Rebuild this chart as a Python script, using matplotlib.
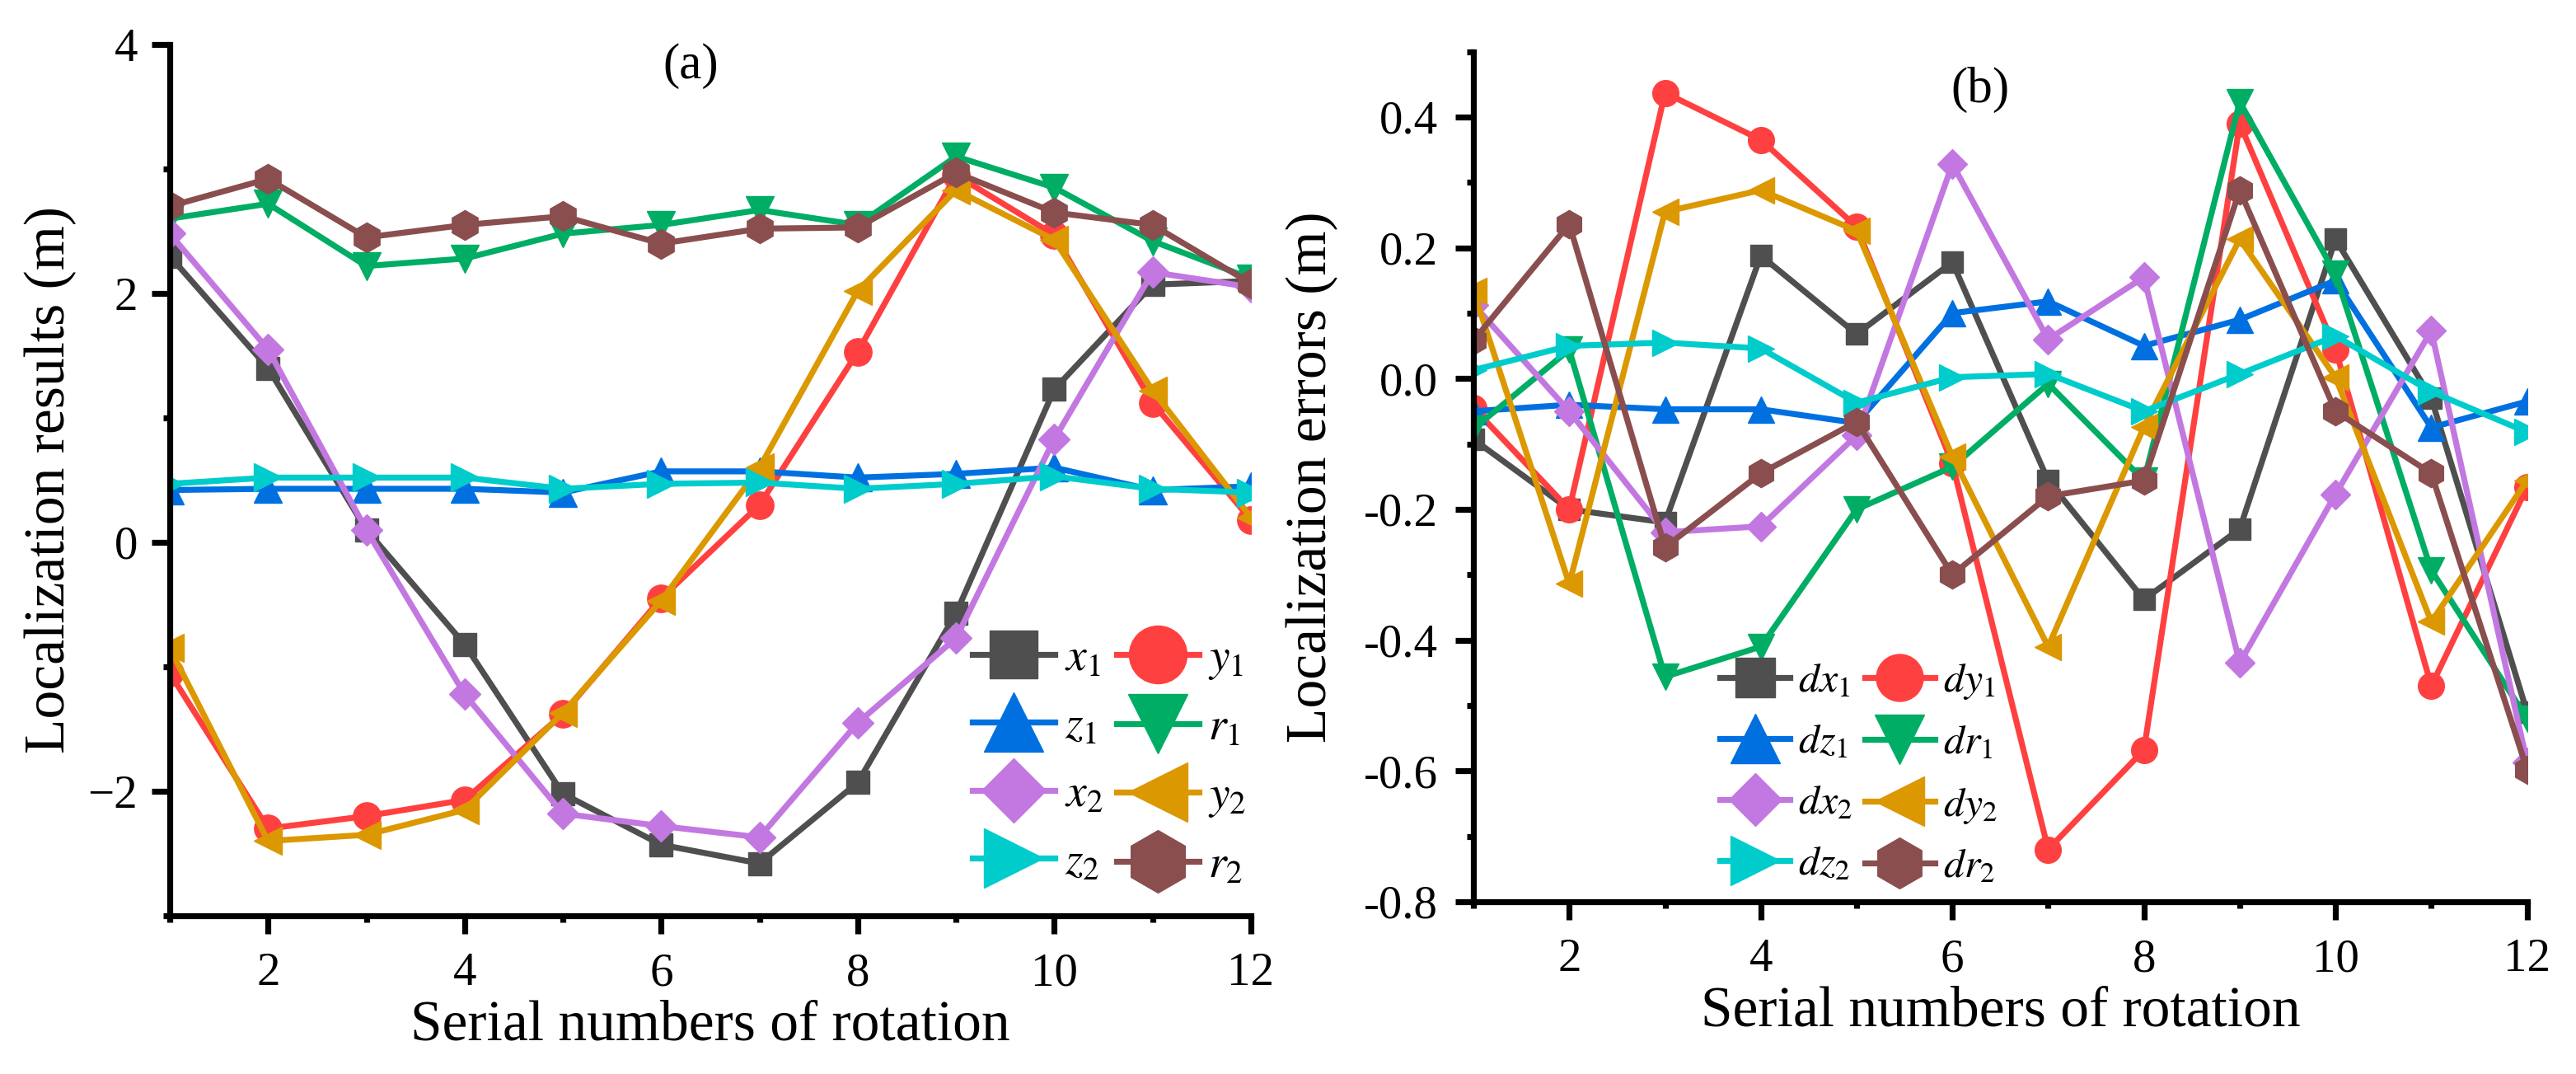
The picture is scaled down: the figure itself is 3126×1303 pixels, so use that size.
import numpy as np
import matplotlib
matplotlib.use('Agg')
import matplotlib.pyplot as plt
from matplotlib.ticker import MultipleLocator, FormatStrFormatter

# serial numbers of rotation
rot = [1, 2, 3, 4, 5, 6, 7, 8, 9, 10, 11, 12]

# (a) localization results (m)
x1 = [2.30, 1.40, 0.10, -0.82, -2.02, -2.43, -2.58, -1.93, -0.57, 1.23, 2.07, 2.10]
y1 = [-1.05, -2.30, -2.20, -2.07, -1.38, -0.45, 0.30, 1.53, 2.95, 2.47, 1.12, 0.18]
z1 = [0.42, 0.43, 0.43, 0.43, 0.40, 0.57, 0.57, 0.52, 0.55, 0.60, 0.42, 0.45]
r1 = [2.60, 2.72, 2.22, 2.28, 2.48, 2.55, 2.67, 2.55, 3.10, 2.85, 2.42, 2.12]
x2 = [2.48, 1.55, 0.10, -1.22, -2.18, -2.28, -2.37, -1.45, -0.77, 0.83, 2.17, 2.05]
y2 = [-0.85, -2.40, -2.35, -2.15, -1.37, -0.47, 0.60, 2.02, 2.83, 2.43, 1.22, 0.20]
z2 = [0.47, 0.52, 0.52, 0.52, 0.43, 0.47, 0.48, 0.43, 0.47, 0.53, 0.43, 0.40]
r2 = [2.70, 2.92, 2.45, 2.55, 2.62, 2.40, 2.52, 2.53, 2.97, 2.65, 2.55, 2.08]

# (b) localization errors (m)
dx1 = [-0.093, -0.200, -0.220, 0.188, 0.068, 0.178, -0.156, -0.338, -0.230, 0.213, -0.030, -0.510]
dy1 = [-0.045, -0.200, 0.437, 0.365, 0.232, -0.130, -0.720, -0.568, 0.390, 0.045, -0.470, -0.166]
dz1 = [-0.050, -0.040, -0.047, -0.047, -0.068, 0.100, 0.118, 0.050, 0.090, 0.150, -0.075, -0.035]
dr1 = [-0.077, 0.044, -0.456, -0.410, -0.200, -0.135, -0.008, -0.156, 0.423, 0.160, -0.293, -0.520]
dx2 = [0.113, -0.050, -0.235, -0.226, -0.087, 0.328, 0.060, 0.155, -0.435, -0.177, 0.073, -0.587]
dy2 = [0.134, -0.314, 0.255, 0.288, 0.226, -0.119, -0.410, -0.074, 0.213, 0.002, -0.372, -0.156]
dz2 = [0.013, 0.050, 0.055, 0.046, -0.037, 0.002, 0.007, -0.050, 0.007, 0.065, -0.020, -0.082]
dr2 = [0.058, 0.236, -0.258, -0.145, -0.066, -0.300, -0.180, -0.156, 0.288, -0.050, -0.145, -0.598]

names_a = ['x_1', 'y_1', 'z_1', 'r_1', 'x_2', 'y_2', 'z_2', 'r_2']
names_b = ['dx_1', 'dy_1', 'dz_1', 'dr_1', 'dx_2', 'dy_2', 'dz_2', 'dr_2']

colors = ['#4f4f4f', '#ff4040', '#0070e0', '#00ad64',
          '#c278e0', '#db9800', '#00cccc', '#8a4e4e']
markers = ['s', 'o', '^', 'v', 'D', '<', '>', 'h']
msizes = {'s': 20, 'o': 24, '^': 25, 'v': 25, 'D': 19, '<': 25, '>': 25, 'h': 26}

plt.rcParams['font.family'] = ['Liberation Serif', 'DejaVu Serif']
plt.rcParams['mathtext.fontset'] = 'stix'

LW = 5.2
SERIF = 'Liberation Serif'


def style_axes(ax, ypad):
    for s in ['top', 'right']:
        ax.spines[s].set_visible(False)
    for s in ['left', 'bottom']:
        ax.spines[s].set_linewidth(LW)
    ax.tick_params(which='major', direction='out', length=16, width=LW, labelsize=41)
    ax.tick_params(which='minor', direction='out', length=6, width=LW)
    ax.tick_params(axis='x', which='major', pad=16)
    ax.tick_params(axis='y', which='major', pad=ypad)
    ax.xaxis.set_major_locator(MultipleLocator(2))
    ax.xaxis.set_minor_locator(MultipleLocator(1))
    ax.set_xlim(1, 12)
    ax.set_xlabel('Serial numbers of rotation', fontsize=50, labelpad=4, family=SERIF)


def serif_ticks(ax):
    for lab in ax.get_xticklabels() + ax.get_yticklabels():
        lab.set_family(SERIF)


fig = plt.figure(figsize=(31.26, 13.03), dpi=100)
ax1 = fig.add_axes([0.0659, 0.1474, 0.4197, 0.8112])
ax2 = fig.add_axes([0.572, 0.1604, 0.409, 0.7916])

order = [0, 2, 4, 6, 1, 3, 5, 7]

# panel (a)
series_a = [x1, y1, z1, r1, x2, y2, z2, r2]
lines_a = []
for vals, c, m, n in zip(series_a, colors, markers, names_a):
    ln, = ax1.plot(rot, vals, color=c, marker=m, ms=msizes[m], lw=LW, label='$' + n + '$')
    lines_a.append(ln)
style_axes(ax1, 12)
ax1.set_ylim(-3, 4)
ax1.yaxis.set_major_locator(MultipleLocator(2))
ax1.yaxis.set_minor_locator(MultipleLocator(1))
ax1.set_ylabel('Localization results (m)', fontsize=50, labelpad=10, family=SERIF)
ax1.text(0.482, 0.975, '(a)', transform=ax1.transAxes, fontsize=44, ha='center', va='center',
         family=SERIF)
ax1.legend([lines_a[i] for i in order], [lines_a[i].get_label() for i in order],
           loc='lower right', bbox_to_anchor=(1.0, 0.027), ncol=2, fontsize=40,
           frameon=False, markerscale=2.1, handlelength=1.8, handletextpad=0.2,
           columnspacing=0.3, labelspacing=0.55, borderaxespad=0.0, borderpad=0.1)
serif_ticks(ax1)

# panel (b)
series_b = [dx1, dy1, dz1, dr1, dx2, dy2, dz2, dr2]
lines_b = []
for vals, c, m, n in zip(series_b, colors, markers, names_b):
    ln, = ax2.plot(rot, vals, color=c, marker=m, ms=msizes[m] * 0.95, lw=LW, label='$' + n + '$')
    lines_b.append(ln)
style_axes(ax2, 15)
ax2.set_ylim(-0.8, 0.5)
ax2.yaxis.set_major_locator(MultipleLocator(0.2))
ax2.yaxis.set_minor_locator(MultipleLocator(0.1))
ax2.yaxis.set_major_formatter(FormatStrFormatter('%.1f'))
ax2.set_ylabel('Localization errors (m)', fontsize=50, labelpad=22, family=SERIF)
ax2.text(0.481, 0.955, '(b)', transform=ax2.transAxes, fontsize=44, ha='center', va='center',
         family=SERIF)
ax2.legend([lines_b[i] for i in order], [lines_b[i].get_label() for i in order],
           loc='lower left', bbox_to_anchor=(0.23, 0.013), ncol=2, fontsize=36,
           frameon=False, markerscale=1.8, handlelength=1.7, handletextpad=0.2,
           columnspacing=0.3, labelspacing=0.55, borderaxespad=0.0, borderpad=0.1)
serif_ticks(ax2)

fig.savefig('out.png', dpi=100, facecolor='white')
